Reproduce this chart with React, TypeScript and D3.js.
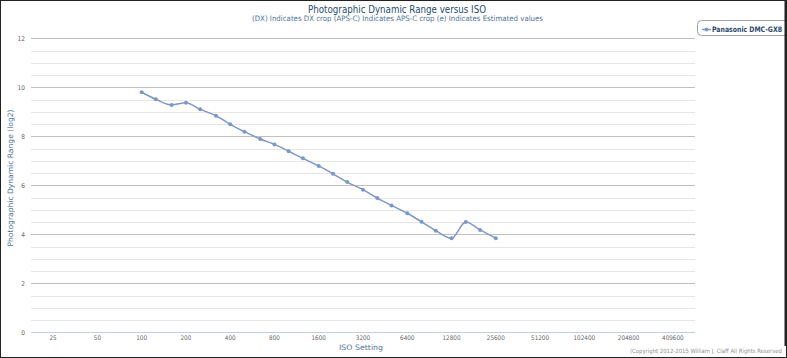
import React from "react";
import * as d3 from "d3";

const isoCategories = ["25", "50", "100", "200", "400", "800", "1600", "3200", "6400", "12800", "25600", "51200", "102400", "204800", "409600"];
const isoCategoryValues = [25, 50, 100, 200, 400, 800, 1600, 3200, 6400, 12800, 25600, 51200, 102400, 204800, 409600];
const yTicks = [0, 2, 4, 6, 8, 10, 12];

const seriesName = "Panasonic DMC-GX8";
const seriesIso = [100, 125, 160, 200, 250, 320, 400, 500, 640, 800, 1000, 1250, 1600, 2000, 2500, 3200, 4000, 5000, 6400, 8000, 10000, 12800, 16000, 20000, 25600];
const seriesDR = [9.80, 9.51, 9.28, 9.37, 9.10, 8.84, 8.49, 8.19, 7.89, 7.67, 7.39, 7.10, 6.79, 6.47, 6.13, 5.82, 5.48, 5.18, 4.86, 4.51, 4.15, 3.84, 4.50, 4.18, 3.84];

const W = 787;
const H = 358;
const FONT = "'DejaVu Sans Condensed', 'DejaVu Sans', sans-serif";
const COLOR = "#7a98c9";

export default function App() {
  const x = d3.scaleLog().base(2).domain([25 / Math.SQRT2, 409600 * Math.SQRT2]).range([31, 695]);
  const y = d3.scaleLinear().domain([0, 12]).range([332.3, 38.3]);
  const minor = d3.range(0, 12.01, 0.5).filter((v) => v % 2 !== 0);
  const pts: [number, number][] = seriesIso.map((iso, i) => [x(iso), y(seriesDR[i])]);
  const line = d3.line().curve(d3.curveMonotoneX)(pts) || "";

  return (
    <svg width={W} height={H} style={{ position: "absolute", left: 0, top: 0, background: "#fff" }} fontFamily={FONT}>
      <rect x={0} y={0} width={W} height={H} fill="#fff" />
      {minor.map((v) => (
        <line key={"m" + v} x1={31} x2={695} y1={Math.round(y(v)) + 0.5} y2={Math.round(y(v)) + 0.5} stroke="#e6e6e6" strokeWidth={1} />
      ))}
      {yTicks.filter((v) => v > 0).map((v) => (
        <line key={"g" + v} x1={31} x2={695} y1={Math.round(y(v)) + 0.5} y2={Math.round(y(v)) + 0.5} stroke="#c0c0c0" strokeWidth={1} />
      ))}
      <line x1={31} x2={695} y1={Math.round(y(0)) + 0.5} y2={Math.round(y(0)) + 0.5} stroke="#c0d0e0" strokeWidth={1} />
      {yTicks.map((v) => (
        <text key={"yt" + v} x={25} y={y(v) + 2.5} textAnchor="end" fontSize={6.5} fill="#666">{v}</text>
      ))}
      {isoCategories.map((c, i) => (
        <text key={"xt" + c} x={x(isoCategoryValues[i])} y={339.5} textAnchor="middle" fontSize={6.3} fill="#666">{c}</text>
      ))}
      <path d={line} fill="none" stroke={COLOR} strokeWidth={1.5} />
      {pts.map((p, i) => (
        <circle key={"p" + i} cx={p[0]} cy={p[1]} r={2} fill={COLOR} />
      ))}
      <text x={397} y={12.5} textAnchor="middle" fontSize={10} fill="#274b6d" textLength={178} lengthAdjust="spacingAndGlyphs">Photographic Dynamic Range versus ISO</text>
      <text x={397.5} y={20.5} textAnchor="middle" fontSize={7.5} fill="#4d759e" textLength={291} lengthAdjust="spacingAndGlyphs">(DX) Indicates DX crop (APS-C) Indicates APS-C crop (e) Indicates Estimated values</text>
      <text transform={`translate(12.5,178) rotate(-90)`} textAnchor="middle" fontSize={7.5} fill="#4d759e" textLength={137} lengthAdjust="spacingAndGlyphs">Photographic Dynamic Range (log2)</text>
      <text x={361} y={349.5} textAnchor="middle" fontSize={7.5} fill="#4d759e" textLength={44} lengthAdjust="spacingAndGlyphs">ISO Setting</text>
      <text x={782} y={353} textAnchor="end" fontSize={5.8} fill="#909090" textLength={152} lengthAdjust="spacingAndGlyphs">(Copyright 2012-2015 William J. Claff All Rights Reserved</text>
      <rect x={697.5} y={20.5} width={100} height={15} rx={4} ry={4} fill="#fff" stroke="#a0a0a0" strokeWidth={1} />
      <line x1={702} x2={711} y1={29.5} y2={29.5} stroke={COLOR} strokeWidth={1.5} />
      <circle cx={706.5} cy={29.5} r={2} fill={COLOR} />
      <text x={712} y={32} fontSize={7.5} fontWeight={600} fill="#274b6d" textLength={70} lengthAdjust="spacingAndGlyphs">{seriesName}</text>
      <rect x={0.5} y={0.5} width={W - 1} height={H - 1} fill="none" stroke="#222" strokeWidth={1} />
      <line x1={785.5} x2={785.5} y1={0} y2={346} stroke="#222" strokeWidth={2} />
    </svg>
  );
}
